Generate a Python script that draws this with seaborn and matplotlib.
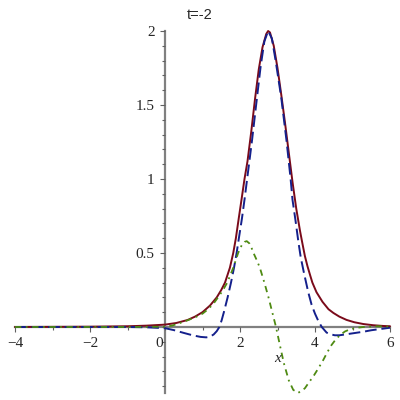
import numpy as np
import pandas as pd
import matplotlib
matplotlib.use("Agg")
import matplotlib.pyplot as plt
import seaborn as sns
from matplotlib.ticker import MultipleLocator, FixedLocator

# values
red_x = [-4, -2, -1, -0.5, 0, 0.3, 0.6, 0.8, 1.0, 1.2, 1.38, 1.5, 1.6, 1.73, 1.82, 1.89, 1.97,
         2.04, 2.12, 2.2, 2.3, 2.4, 2.5, 2.6, 2.7, 2.75, 2.8, 2.9, 3.0, 3.1, 3.2, 3.3, 3.4,
         3.5, 3.6, 3.66, 3.73, 3.8, 3.87, 3.93, 4.04, 4.2, 4.36, 4.49, 4.65, 4.84, 5.05,
         5.29, 5.55, 5.82, 6]
red_y = [0.0, 0.002, 0.005, 0.009, 0.016, 0.027, 0.047, 0.07, 0.1, 0.145, 0.2, 0.25, 0.3, 0.4,
         0.5, 0.6, 0.74, 0.86, 1.0, 1.12, 1.32, 1.54, 1.74, 1.89, 1.98, 2.0, 1.99, 1.9, 1.75,
         1.57, 1.38, 1.18, 0.98, 0.8, 0.65, 0.57, 0.48, 0.41, 0.35, 0.3, 0.235, 0.17, 0.12,
         0.095, 0.07, 0.048, 0.032, 0.02, 0.012, 0.007, 0.005]

blue_x = [-4, -1, -0.5, 0, 0.25, 0.5, 0.75, 0.95, 1.1, 1.2, 1.3, 1.38, 1.45, 1.51, 1.57, 1.67,
          1.76, 1.84, 1.91, 1.97, 2.05, 2.12, 2.19, 2.32, 2.43, 2.55, 2.65, 2.75, 2.85, 2.95,
          3.1, 3.24, 3.35, 3.4, 3.48, 3.56, 3.62, 3.71, 3.82, 3.91, 4.0, 4.09, 4.18, 4.31,
          4.42, 4.53, 4.65, 4.76, 5.0, 5.29, 5.5, 5.73, 6]
blue_y = [0.0, 0.0, -0.002, -0.008, -0.022, -0.04, -0.057, -0.067, -0.07, -0.066, -0.05, -0.028,
          0.0, 0.045, 0.1, 0.2, 0.3, 0.4, 0.5, 0.6, 0.73, 0.86, 1.0, 1.26, 1.5, 1.76, 1.93, 2.0,
          1.95, 1.8, 1.55, 1.26, 1.0, 0.86, 0.72, 0.57, 0.47, 0.36, 0.235, 0.15, 0.09, 0.04,
          0.0, -0.038, -0.05, -0.056, -0.056, -0.052, -0.043, -0.032, -0.022, -0.014, -0.005]

green_x = [-4, -1, 0, 0.2, 0.4, 0.6, 0.8, 1.0, 1.15, 1.3, 1.47, 1.57, 1.66, 1.74, 1.82, 1.95,
           2.05, 2.12, 2.18, 2.25, 2.3, 2.36, 2.45, 2.53, 2.65, 2.76, 2.86, 2.96, 3.07, 3.17,
           3.3, 3.42, 3.55, 3.65, 3.73, 3.85, 3.95, 4.1, 4.22, 4.33, 4.44, 4.55, 4.67, 4.8,
           4.93, 5.1, 5.29, 5.64, 6]
green_y = [0.0, 0.0, 0.002, 0.01, 0.027, 0.045, 0.065, 0.09, 0.12, 0.16, 0.22, 0.26, 0.3, 0.35,
           0.4, 0.5, 0.555, 0.575, 0.58, 0.565, 0.54, 0.5, 0.45, 0.4, 0.3, 0.2, 0.1, 0.0, -0.13,
           -0.245, -0.36, -0.425, -0.445, -0.43, -0.414, -0.37, -0.336, -0.275, -0.223, -0.17,
           -0.122, -0.085, -0.054, -0.03, -0.016, -0.006, 0.0, 0.005, 0.003]

x_ticks = [-4, -2, 2, 4, 6]
y_ticks = [0.5, 1, 1.5, 2]

sns.set_style("white")
plt.rcParams['axes.unicode_minus'] = True

fig = plt.figure(figsize=(4, 4), dpi=100)
ax = fig.add_axes([0.0375, 0.0175, 0.9375, 0.905])

sns.lineplot(x=red_x, y=red_y, ax=ax, color="#7a0a1a", linewidth=1.4, sort=False, clip_on=False)
sns.lineplot(x=blue_x, y=blue_y, ax=ax, color="#14208c", linewidth=1.4, sort=False, clip_on=False)
ax.lines[-1].set_dashes([6, 2.5])
sns.lineplot(x=green_x, y=green_y, ax=ax, color="#4e8a12", linewidth=1.3, sort=False, clip_on=False)
ax.lines[-1].set_dashes([3.5, 2.5, 1, 2.5])

ax.set_xlim(-4, 6)
ax.set_ylim(-0.446, 2.0)

for s in ["top", "right"]:
    ax.spines[s].set_visible(False)
ax.spines["left"].set_position(("data", 0))
ax.spines["bottom"].set_position(("data", 0))
for s in ["left", "bottom"]:
    ax.spines[s].set_color("#808080")
    ax.spines[s].set_linewidth(1.6)
    ax.spines[s].set_zorder(0.5)

ax.xaxis.set_major_locator(FixedLocator(x_ticks))
ax.xaxis.set_minor_locator(MultipleLocator(1))
ax.yaxis.set_major_locator(FixedLocator(y_ticks))
ax.yaxis.set_minor_locator(MultipleLocator(0.1))
ax.set_xticklabels(["\u2212%d" % -v if v < 0 else "%d" % v for v in x_ticks])
ax.set_yticklabels(["%g" % v for v in y_ticks])

tick_font = dict(family="Liberation Serif", size=11)
ax.tick_params(axis="both", which="both", direction="out", color="#606060",
               bottom=True, left=True, width=0.8)
ax.tick_params(axis="both", which="major", length=3.5)
ax.tick_params(axis="both", which="minor", length=2.5)
ax.tick_params(axis="x", pad=4)
ax.tick_params(axis="y", pad=4)
for lab in ax.get_xticklabels() + ax.get_yticklabels():
    lab.set_fontfamily("Liberation Serif")
    lab.set_fontsize(11)

ax.annotate("0", xy=(0, 0), xytext=(-1.5, -7), textcoords="offset points",
            ha="right", va="top", **tick_font)
ax.text(3.0, -0.21, "x", fontstyle="italic", family="Liberation Serif", size=11,
        ha="center", va="center")
fig.text(0.5, 0.962, "t=-2", ha="center", va="center", family="Liberation Sans", size=10.5)

ax.set_xlabel("")
ax.set_ylabel("")
fig.savefig("out.png", dpi=100)
